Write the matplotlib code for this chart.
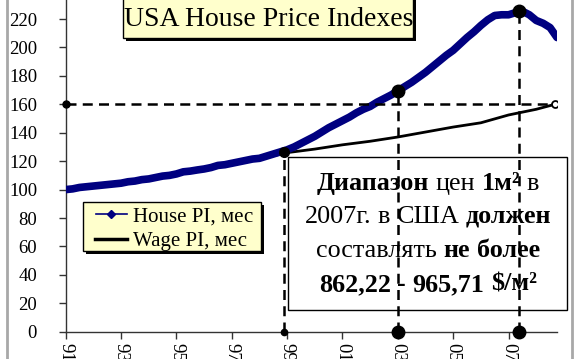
import numpy as np
import matplotlib
matplotlib.use("Agg")
import matplotlib.pyplot as plt
from matplotlib.patches import Rectangle
from matplotlib.lines import Line2D

# ---------------- data ----------------
title = "USA House Price Indexes"
start_year = 1991.0
# House price index, quarterly readings (1991 Q1 .. 2008 Q4)
house_pi = [100, 100.5, 101.5, 102,
            102.5, 103, 103.5, 104,
            104.5, 105.5, 106, 107,
            107.5, 108.5, 109.5, 110,
            111, 112.5, 113, 113.8,
            114.5, 115.5, 117, 117.5,
            118.5, 119.5, 120.5, 121.5,
            122, 123.5, 125, 126.5,
            128, 130, 132.5, 135,
            137.5, 140.5, 143.5, 146,
            148.5, 151, 154, 156.5,
            158.5, 161.5, 164, 166.5,
            169.5, 172.5, 175.5, 179,
            182.5, 186.5, 190.5, 194.5,
            198, 202.5, 207, 211,
            215.5, 219.5, 222.5, 223,
            223, 224.5, 225.5, 223,
            219, 217, 214, 207]
wage_years = [1998.1, 1999.0, 2000.0, 2001.0, 2002.0, 2003.0, 2004.0,
              2005.0, 2006.0, 2007.0, 2008.0, 2008.67]
wage_pi = [122, 126, 128.5, 131.5, 134, 137, 140.5, 144, 147, 152.5, 156.5, 160]
tick_years = [1991, 1993, 1995, 1997, 1999, 2001, 2003, 2005, 2007]
tick_labels = ["91", "93", "95", "97", "99", "01", "03", "05", "07"]
y_ticks = [0, 20, 40, 60, 80, 100, 120, 140, 160, 180, 200, 220]
guide_years = [1998.87, 2003.0, 2007.37]
guide_values = [126.5, 169.5, 225.6]
target_level = 160
legend_labels = ["House PI, мес", "Wage PI, мес"]
box_lines = [
    [("Диапазон", True), ("цен", False), ("1м²", True), ("в", False)],
    [("2007г.", False), ("в", False), ("США", False), ("должен", True)],
    [("составлять", False), ("не", True), ("более", True)],
    [("862,22", True), ("-", True), ("965,71", True), ("$/м²", True)],
]

# ---------------- figure ----------------
W, H = 580, 359
fig = plt.figure(figsize=(W / 100, H / 100), dpi=100)
SERIF = ["Liberation Serif", "DejaVu Serif"]

def fx(px):
    return px / W

def fy(py):
    return 1 - py / H

ax_left, ax_right, ax_bottom, ax_top = 65.7, 557, 331.7, 0
ax = fig.add_axes([fx(ax_left), fy(ax_bottom), fx(ax_right - ax_left), (ax_bottom - ax_top) / H])
house_x = start_year + 0.25 * np.arange(len(house_pi))
ax.set_xlim(1991.0, 2008.75)
ax.set_ylim(0, 233.4)

navy = "#000080"
ax.plot(house_x, house_pi, color=navy, lw=5.5, solid_capstyle="round", zorder=4)
ax.plot(wage_years, wage_pi, color="black", lw=2.0, zorder=3)
ax.plot([wage_years[-1]], [wage_pi[-1]], marker="o", ms=5, mfc="white", mec="black", mew=1.3, zorder=6)

dash = (0, (4, 2.5))
# horizontal guide
ax.plot([1991.0, wage_years[-1]], [target_level, target_level], color="black", lw=1.8, ls=dash, zorder=5)
ax.plot([1991.0], [target_level], "o", color="black", ms=5, zorder=6, clip_on=False)
# vertical guides
sizes = [(4.5, 7), (9, 9), (9, 9)]
for gx, gv, (sb, st) in zip(guide_years, guide_values, sizes):
    ax.plot([gx, gx], [0, gv], color="black", lw=1.8, ls=dash, zorder=5)
    ax.plot([gx], [0], "o", color="black", ms=sb, zorder=6, clip_on=False)
    ax.plot([gx], [gv], "o", color="black", ms=st, zorder=6)

for s in ["top", "right"]:
    ax.spines[s].set_visible(False)
for s in ["left", "bottom"]:
    ax.spines[s].set_linewidth(1.0)
    ax.spines[s].set_color("#333333")
ax.tick_params(axis="both", direction="out", length=5, width=1, color="#333333")
ax.yaxis.set_tick_params(pad=15.6)
ax.xaxis.set_tick_params(pad=3)
ax.set_yticks(y_ticks)
ax.set_yticklabels([str(v) for v in y_ticks], fontfamily=SERIF, fontsize=13.5)
ax.set_xticks(tick_years)
ax.set_xticklabels(tick_labels, fontfamily=SERIF, fontsize=13.5, rotation=-90, va="top")
ax.patch.set_alpha(0)

# outer chart border
fig.patches.append(Rectangle((fx(7), fy(400)), fx(572 - 7), 500 / H, transform=fig.transFigure,
                             fill=False, ec="#a8a8a8", lw=2, zorder=0))

yellow = "#FFFFCC"

def box(x0, y0, x1, y1, fill, shadow=True, lw=1.0, z=10):
    if shadow:
        fig.patches.append(Rectangle((fx(x0 + 3), fy(y1 + 3)), fx(x1 - x0), (y1 - y0) / H,
                                     transform=fig.transFigure, fc="black", ec="none", zorder=z))
    fig.patches.append(Rectangle((fx(x0), fy(y1)), fx(x1 - x0), (y1 - y0) / H,
                                 transform=fig.transFigure, fc=fill, ec="black", lw=lw, zorder=z + 0.1))

# title box
box(123, -5, 413, 38, yellow)
fig.text(fx(269), fy(19), title, fontfamily=SERIF, fontsize=20, ha="center", va="center", zorder=12)

# legend box
box(83, 202, 261, 251, yellow)
fig.add_artist(Line2D([fx(96), fx(111), fx(127)], [fy(214)] * 3, color=navy, lw=1.2, marker="D",
                      markevery=[1], ms=4.5, zorder=12))
fig.add_artist(Line2D([fx(95), fx(127)], [fy(239), fy(239)], color="black", lw=2.5, zorder=12))
fig.text(fx(133), fy(222), legend_labels[0], fontfamily=SERIF, fontsize=15, va="baseline", zorder=12)
fig.text(fx(133), fy(246), legend_labels[1], fontfamily=SERIF, fontsize=15, va="baseline", zorder=12)

# annotation box (white, behind dashed guides)
fig.patches.append(Rectangle((fx(288), fy(310)), fx(567 - 288), (310 - 157) / H, transform=fig.transFigure,
                             fc="white", ec="black", lw=1.0, zorder=1))
ax.set_zorder(2)

fig.canvas.draw()
r = fig.canvas.get_renderer()
fs = 18.8

def width_of(s, bold):
    t = fig.text(0, 0, s, fontfamily=SERIF, fontsize=fs, fontweight="bold" if bold else "normal")
    w = t.get_window_extent(r).width
    t.remove()
    return w

space_w = width_of("x x", False) - width_of("xx", False)
baselines = [190, 223, 257, 291]
cx = 428
for yb, segs in zip(baselines, box_lines):
    ws = [width_of(s, b) for s, b in segs]
    total = sum(ws) + space_w * (len(segs) - 1)
    x = cx - total / 2
    for (s, b), w in zip(segs, ws):
        fig.text(fx(x), fy(yb), s, fontfamily=SERIF, fontsize=fs, fontweight="bold" if b else "normal",
                 va="baseline", zorder=1.5)
        x += w + space_w

fig.savefig("out.png", dpi=100)
